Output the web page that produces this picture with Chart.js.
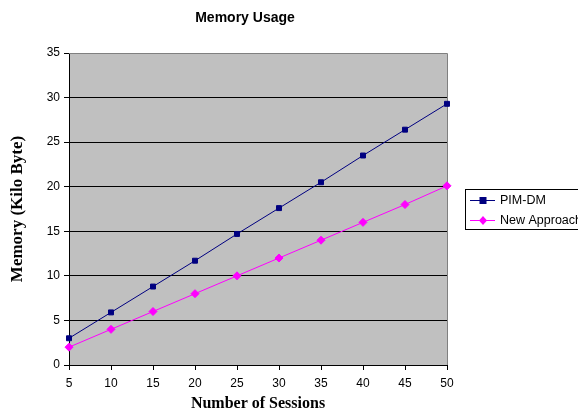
<!DOCTYPE html>
<html>
<head>
<meta charset="UTF-8">
<script src="https://cdn.jsdelivr.net/npm/chart.js@4.4.0/dist/chart.umd.min.js"></script>
<style>
  body { margin: 0; background: #fff; }
  #wrap { width: 578px; height: 413px; }
</style>
</head>
<body>
<div id="wrap"><canvas id="grafico"></canvas></div>
<script>
  // valores
  const sessoes = [5, 10, 15, 20, 25, 30, 35, 40, 45, 50];
  const pimDm = [3.0, 5.9, 8.8, 11.7, 14.7, 17.6, 20.5, 23.5, 26.4, 29.3];
  const novaAbordagem = [2.0, 4.0, 6.0, 8.0, 10.0, 12.0, 14.0, 16.0, 18.0, 20.1];
  const tituloGrafico = "Memory Usage";

  // fundo cinza da area do grafico + titulo + legenda com borda
  const excelVisual = {
    id: "excelVisual",
    beforeDraw(chart) {
      const { ctx, chartArea: a } = chart;
      ctx.save();
      ctx.fillStyle = "#C0C0C0";
      ctx.fillRect(a.left, a.top, a.right - a.left, a.bottom - a.top);
      ctx.restore();
    },
    beforeDatasetsDraw(chart) {
      const { ctx, chartArea: a } = chart;
      ctx.save();
      ctx.strokeStyle = "#808080";
      ctx.lineWidth = 1;
      ctx.beginPath();
      ctx.moveTo(a.left, a.top + 0.5);
      ctx.lineTo(a.right + 0.5, a.top + 0.5);
      ctx.lineTo(a.right + 0.5, a.bottom);
      ctx.stroke();
      ctx.restore();
    },
    afterDraw(chart) {
      const ctx = chart.ctx;
      ctx.save();
      ctx.fillStyle = "#000";
      ctx.font = "bold 14px 'Liberation Sans', Arial, sans-serif";
      ctx.textAlign = "center";
      ctx.textBaseline = "middle";
      ctx.fillText(tituloGrafico, 245, 18);

      // legenda
      ctx.fillStyle = "#fff";
      ctx.fillRect(465.5, 189.5, 130, 40);
      ctx.strokeStyle = "#000";
      ctx.lineWidth = 1;
      ctx.strokeRect(465.5, 189.5, 130, 40);
      ctx.font = "12.5px 'Liberation Sans', Arial, sans-serif";
      ctx.textAlign = "left";
      chart.data.datasets.forEach(function (ds, i) {
        const y = 200 + i * 20;
        ctx.strokeStyle = ds.borderColor;
        ctx.beginPath();
        ctx.moveTo(470, y + 0.5);
        ctx.lineTo(495, y + 0.5);
        ctx.stroke();
        ctx.fillStyle = ds.pointBackgroundColor;
        if (ds.pointStyle === "rect") {
          ctx.fillRect(479.5, y - 3, 7, 7);
        } else {
          ctx.beginPath();
          ctx.moveTo(483, y - 4);
          ctx.lineTo(487, y + 0.5);
          ctx.lineTo(483, y + 5);
          ctx.lineTo(479, y + 0.5);
          ctx.closePath();
          ctx.fill();
        }
        ctx.fillStyle = "#000";
        ctx.fillText(ds.label, 500, y + 1);
      });
      ctx.restore();
    }
  };

  const config = {
    type: "line",
    data: {
      labels: sessoes,
      datasets: [
        {
          label: "PIM-DM",
          data: pimDm,
          borderColor: "#000080",
          backgroundColor: "#000080",
          pointBackgroundColor: "#000080",
          pointBorderColor: "#000080",
          pointStyle: "rect",
          pointRadius: 3.5,
          borderWidth: 1,
          tension: 0
        },
        {
          label: "New Approach",
          data: novaAbordagem,
          borderColor: "#FF00FF",
          backgroundColor: "#FF00FF",
          pointBackgroundColor: "#FF00FF",
          pointBorderColor: "#FF00FF",
          pointStyle: "rectRot",
          pointRadius: 4,
          borderWidth: 1,
          tension: 0
        }
      ]
    },
    options: {
      responsive: true,
      maintainAspectRatio: false,
      animation: false,
      layout: { padding: { left: 0, top: 53, right: 131, bottom: 0 } },
      plugins: {
        legend: { display: false },
        title: { display: false },
        tooltip: { enabled: false }
      },
      scales: {
        x: {
          offset: false,
          grid: {
            drawOnChartArea: false,
            drawTicks: true,
            tickLength: 5,
            color: "#000"
          },
          border: { color: "#000", width: 1 },
          ticks: {
            color: "#000",
            padding: 6,
            maxRotation: 0,
            font: { family: "'Liberation Sans', Arial", size: 12 }
          },
          title: {
            display: true,
            text: "Number of Sessions",
            color: "#000",
            padding: { top: 4, bottom: 0 },
            font: { family: "'Liberation Serif', 'Times New Roman'", size: 16, weight: "bold" }
          },
          afterFit(s) { s.height = 48; }
        },
        y: {
          min: 0,
          max: 35,
          grid: {
            color: function (c) { return c.tick && c.tick.value === 35 ? "#808080" : "#000"; },
            tickColor: "#000",
            tickLength: 5,
            drawTicks: true
          },
          border: { color: "#000", width: 1 },
          ticks: {
            stepSize: 5,
            color: "#000",
            padding: 4,
            font: { family: "'Liberation Sans', Arial", size: 12 }
          },
          title: {
            display: true,
            text: "Memory (Kilo Byte)",
            color: "#000",
            padding: { top: 7, bottom: 4 },
            font: { family: "'Liberation Serif', 'Times New Roman'", size: 17, weight: "bold" }
          },
          afterFit(s) { s.width = 69; }
        }
      }
    },
    plugins: [excelVisual]
  };

  new Chart(document.getElementById("grafico"), config);
</script>
</body>
</html>
